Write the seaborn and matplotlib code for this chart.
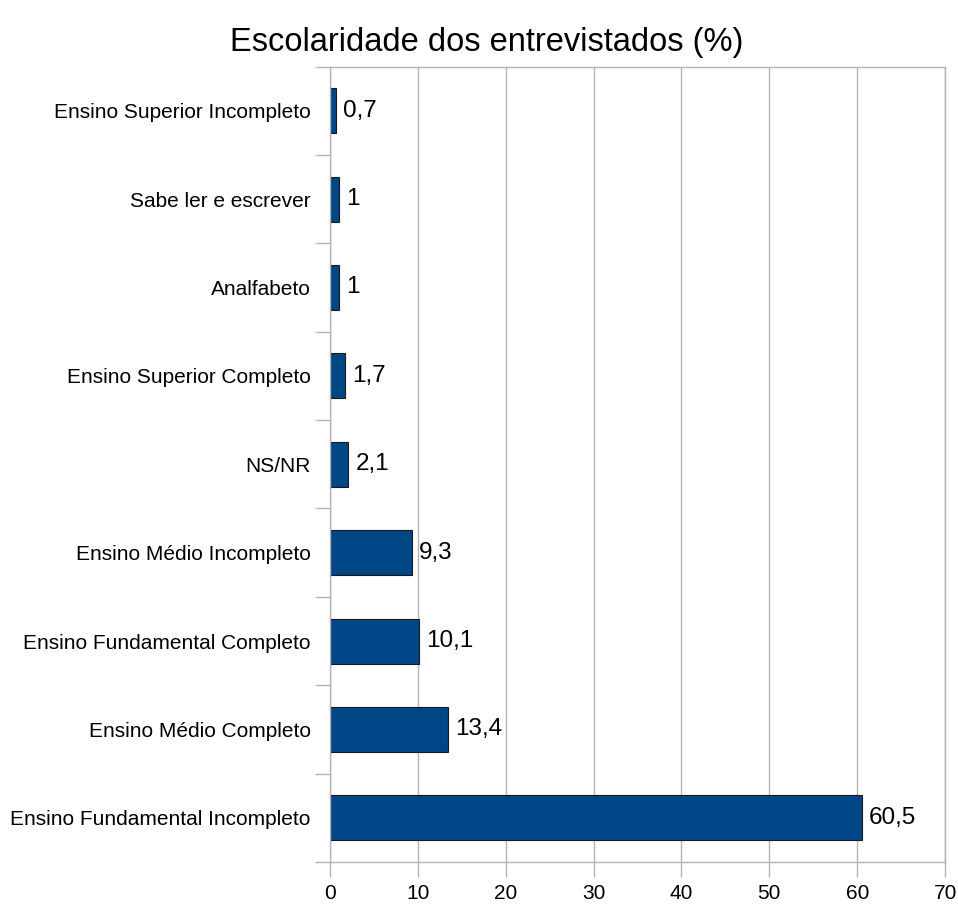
import matplotlib
matplotlib.use("Agg")
import matplotlib.pyplot as plt
import seaborn as sns
import numpy as np
import pandas as pd

categories = ["Ensino Superior Incompleto", "Sabe ler e escrever", "Analfabeto",
              "Ensino Superior Completo", "NS/NR", "Ensino Médio Incompleto",
              "Ensino Fundamental Completo", "Ensino Médio Completo",
              "Ensino Fundamental Incompleto"]
values = [0.7, 1, 1, 1.7, 2.1, 9.3, 10.1, 13.4, 60.5]
value_labels = ["0,7", "1", "1", "1,7", "2,1", "9,3", "10,1", "13,4", "60,5"]
x_ticks = [0, 10, 20, 30, 40, 50, 60, 70]

sns.set_theme(style="white")
plt.rcParams['font.family'] = ['Liberation Sans', 'DejaVu Sans']

df = pd.DataFrame({"cat": categories, "val": values})

fig = plt.figure(figsize=(9.58, 9.05), dpi=100)
ax = fig.add_axes([0.3445, 0.0475, 0.642, 0.879])

sns.barplot(data=df, y="cat", x="val", orient="h", color="#004586",
            saturation=1, width=0.51, edgecolor="#1a1a1a", linewidth=0.8, ax=ax)

ax.set_xlim(0, 70)
ax.set_ylim(len(categories) - 0.5, -0.5)
ax.set_xticks(x_ticks)
ax.set_xticklabels([str(t) for t in x_ticks], fontsize=15, color="black")
ax.set_yticks(range(len(categories)))
ax.set_yticklabels(categories, fontsize=15, color="black")
ax.set_yticks(np.arange(-0.5, len(categories), 1), minor=True)
ax.tick_params(axis='y', which='major', length=0, pad=14)
ax.tick_params(axis='y', which='minor', length=11, color="#b3b3b3", width=1, left=True)
ax.tick_params(axis='x', which='major', length=11, color="#b3b3b3", width=1, bottom=True, pad=5)
ax.set_xlabel("")
ax.set_ylabel("")

ax.grid(axis='x', color="#b3b3b3", linewidth=1)
ax.set_axisbelow(True)
for s in ["left", "bottom", "top", "right"]:
    ax.spines[s].set_visible(True)
    ax.spines[s].set_color("#b3b3b3")
    ax.spines[s].set_linewidth(1)

for i, (v, lab) in enumerate(zip(values, value_labels)):
    ax.text(v + 0.8, i, lab, va="center", ha="left", fontsize=17.5, color="black")

fig.text(0.5 + 0.008, 0.953, "Escolaridade dos entrevistados (%)", ha="center", va="center",
         fontsize=23.5, color="black")

fig.savefig("out.png", dpi=100, facecolor="white")
